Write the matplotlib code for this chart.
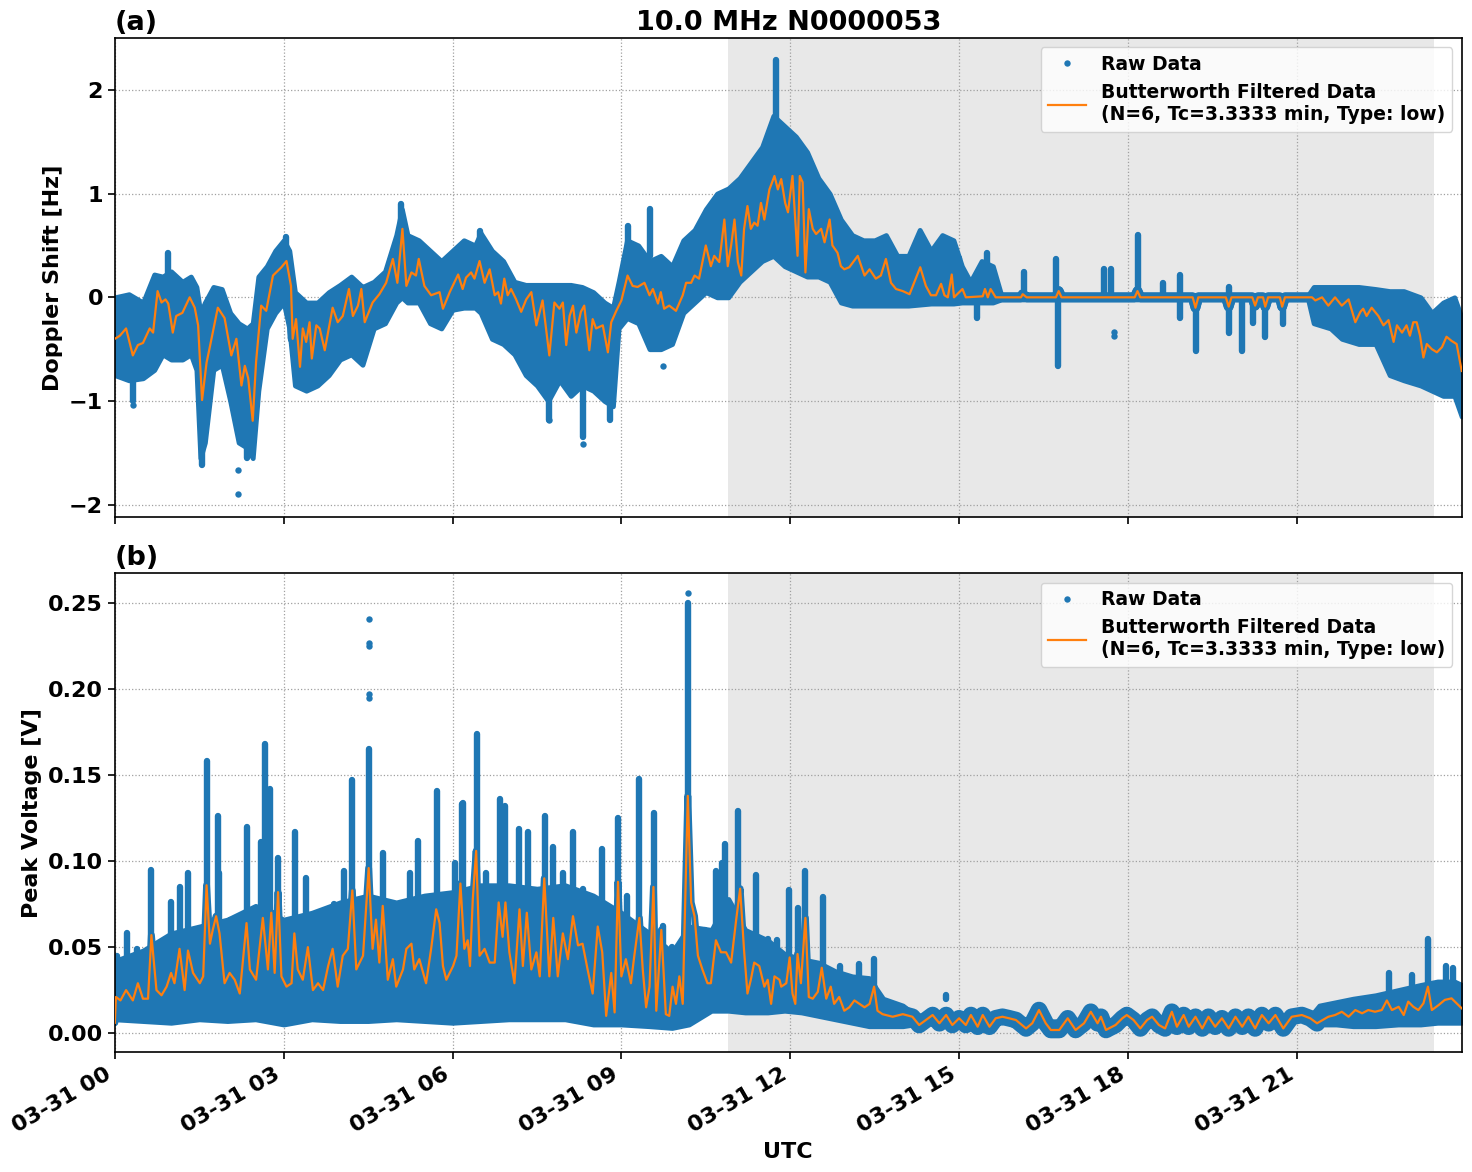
import numpy as np
import matplotlib
matplotlib.use("Agg")
import matplotlib.pyplot as plt
import matplotlib.dates as mdates
import matplotlib.ticker as mticker

plt.rcParams['font.family'] = ['DejaVu Sans']
plt.rcParams['font.weight'] = 'bold'
plt.rcParams['axes.labelweight'] = 'bold'
plt.rcParams['axes.titleweight'] = 'bold'

BLUE = '#1f77b4'
ORANGE = '#ff7f0e'

# ---------------- Data (hours after 03-31 00:00 UTC) ----------------
title = "10.0 MHz N0000053"
legend_raw = "Raw Data"
legend_filt = "Butterworth Filtered Data\n(N=6, Tc=3.3333 min, Type: low)"
night_start_h = 10.89
night_end_h = 23.43
x_end_h = 23.93

# Panel (a): Doppler shift, filtered series
dop_filt_t = [0.0,0.09,0.2,0.32,0.41,0.5,0.62,0.68,0.76,0.83,0.9,0.95,1.03,1.09,1.2,1.33,1.42,1.48,1.55,1.63,
              1.68,1.83,1.95,2.07,2.16,2.25,2.31,2.37,2.45,2.51,2.6,2.69,2.81,2.96,3.05,3.13,3.16,3.22,3.29,3.34,
              3.4,3.46,3.5,3.58,3.64,3.73,3.87,3.96,4.05,4.16,4.23,4.32,4.38,4.44,4.58,4.7,4.82,4.94,5.02,5.11,
              5.18,5.27,5.35,5.4,5.5,5.62,5.77,5.83,5.95,6.1,6.18,6.24,6.33,6.39,6.48,6.57,6.66,6.75,6.81,6.86,
              6.92,6.98,7.04,7.13,7.22,7.31,7.4,7.49,7.6,7.72,7.81,7.9,7.96,8.02,8.08,8.14,8.2,8.28,8.34,8.43,
              8.49,8.55,8.67,8.76,8.82,8.91,9.0,9.11,9.2,9.29,9.41,9.5,9.56,9.65,9.7,9.76,9.85,9.97,10.09,10.15,
              10.24,10.3,10.38,10.5,10.59,10.65,10.74,10.83,10.89,10.95,11.01,11.07,11.13,11.18,11.24,11.3,11.36,11.42,11.48,11.54,
              11.63,11.72,11.78,11.84,11.91,11.96,12.04,12.1,12.13,12.17,12.22,12.27,12.33,12.4,12.46,12.55,12.61,12.7,12.75,12.84,
              12.9,12.96,13.05,13.2,13.32,13.41,13.52,13.61,13.7,13.79,13.88,14.0,14.12,14.2,14.31,14.41,14.5,14.59,14.68,14.74,
              14.8,14.87,14.91,15.06,15.12,15.42,15.46,15.51,15.56,15.65,16.1,16.13,16.2,16.72,16.77,16.82,18.12,18.17,18.22,19.15,
              19.2,19.25,19.74,19.79,19.84,20.21,20.26,20.31,20.4,20.44,20.49,20.7,20.74,20.79,21.27,21.33,21.45,21.56,21.68,21.8,
              21.92,22.04,22.13,22.18,22.24,22.33,22.45,22.54,22.63,22.72,22.78,22.87,22.95,23.01,23.07,23.13,23.19,23.25,23.31,23.4,
              23.49,23.58,23.66,23.75,23.84,23.93]
dop_filt_v = [-0.40,-0.37,-0.30,-0.56,-0.46,-0.44,-0.30,-0.34,0.06,-0.05,-0.02,-0.06,-0.34,-0.18,-0.15,0.00,-0.10,-0.27,-0.99,-0.63,
              -0.50,-0.10,-0.20,-0.56,-0.40,-0.85,-0.66,-0.78,-1.19,-0.62,-0.08,-0.13,0.21,0.29,0.35,0.11,-0.40,-0.21,-0.67,-0.30,
              -0.43,-0.24,-0.59,-0.27,-0.30,-0.51,-0.10,-0.24,-0.18,0.08,-0.18,-0.08,0.08,-0.24,-0.05,0.03,0.14,0.37,0.14,0.66,
              0.11,0.24,0.21,0.37,0.11,0.02,0.05,-0.11,0.05,0.22,0.08,0.19,0.24,0.18,0.35,0.14,0.27,0.02,0.05,-0.06,
              0.18,0.02,0.08,-0.02,-0.14,-0.02,0.05,-0.27,-0.03,-0.56,-0.05,-0.11,-0.05,-0.46,-0.18,-0.08,-0.34,-0.14,-0.08,-0.51,
              -0.21,-0.30,-0.27,-0.53,-0.24,-0.13,-0.03,0.21,0.11,0.10,0.14,0.02,0.08,-0.06,0.05,-0.11,-0.08,-0.13,0.02,0.14,
              0.14,0.21,0.18,0.50,0.30,0.40,0.34,0.75,0.30,0.50,0.75,0.34,0.21,0.66,0.88,0.66,0.72,0.69,0.91,0.75,
              1.04,1.17,1.04,1.14,0.91,0.82,1.17,0.66,0.40,1.17,1.11,0.24,0.85,0.66,0.61,0.66,0.53,0.75,0.50,0.43,
              0.30,0.27,0.29,0.40,0.21,0.27,0.18,0.21,0.37,0.14,0.08,0.06,0.03,0.14,0.29,0.11,0.02,0.02,0.13,0.02,
              0.00,0.22,0.00,0.08,0.00,0.01,0.08,0.00,0.08,0.00,0.00,0.03,0.00,0.00,0.06,0.00,0.00,0.06,0.00,0.00,
              -0.10,0.00,0.00,-0.09,0.00,0.00,-0.08,0.00,0.00,-0.09,0.00,0.00,-0.09,0.00,0.00,-0.03,0.00,-0.08,0.00,-0.08,
              -0.02,-0.24,-0.14,-0.11,-0.18,-0.10,-0.18,-0.27,-0.22,-0.43,-0.27,-0.34,-0.27,-0.37,-0.24,-0.24,-0.37,-0.58,-0.45,-0.50,
              -0.53,-0.48,-0.38,-0.42,-0.45,-0.71]

# Panel (a): raw data spread (lower / upper edge of the dense cloud)
dop_raw_t = [0.0,0.25,0.5,0.7,0.85,1.0,1.2,1.35,1.45,1.52,1.6,1.75,1.9,2.05,2.2,2.35,2.45,2.55,2.7,2.85,
             3.0,3.1,3.2,3.4,3.6,3.8,4.0,4.2,4.4,4.6,4.8,5.0,5.1,5.2,5.4,5.6,5.8,6.0,6.2,6.4,
             6.5,6.7,6.9,7.1,7.3,7.5,7.7,7.9,8.1,8.3,8.5,8.7,8.85,8.95,9.1,9.3,9.5,9.7,9.9,10.1,
             10.3,10.5,10.7,10.9,11.1,11.3,11.5,11.7,11.9,12.1,12.3,12.5,12.7,12.9,13.1,13.3,13.5,13.7,13.9,14.1,
             14.3,14.5,14.7,14.9,15.05,15.2,15.4,15.6,15.75,21.2,21.3,21.6,21.8,22.1,22.4,22.65,22.9,23.2,23.4,23.6,
             23.8,23.93]
dop_raw_lo = [-0.75,-0.80,-0.78,-0.70,-0.55,-0.60,-0.60,-0.55,-0.70,-1.55,-1.40,-0.70,-0.65,-1.00,-1.40,-1.45,-1.55,-0.90,-0.30,-0.15,
              -0.05,-0.30,-0.85,-0.90,-0.85,-0.75,-0.60,-0.55,-0.65,-0.30,-0.25,-0.05,0.00,-0.05,-0.05,-0.25,-0.30,-0.12,-0.10,-0.10,
              -0.15,-0.40,-0.45,-0.55,-0.75,-0.85,-1.00,-0.80,-0.95,-0.85,-0.90,-1.00,-1.05,-0.30,-0.20,-0.25,-0.50,-0.50,-0.45,-0.15,
              -0.05,0.05,0.00,0.00,0.15,0.25,0.35,0.40,0.30,0.25,0.20,0.20,0.15,-0.05,-0.08,-0.08,-0.08,-0.08,-0.08,-0.08,
              -0.07,-0.06,-0.06,-0.06,-0.05,-0.05,-0.05,-0.05,-0.02,-0.02,-0.25,-0.30,-0.40,-0.45,-0.45,-0.75,-0.80,-0.85,-0.90,-0.95,
              -0.95,-1.15]
dop_raw_hi = [0.00,0.03,-0.05,0.22,0.20,0.25,0.15,0.20,0.10,-0.15,-0.05,0.10,0.08,-0.15,-0.25,-0.30,-0.25,0.20,0.30,0.45,
              0.55,0.45,0.05,-0.05,-0.05,0.05,0.12,0.20,0.10,0.15,0.25,0.60,0.85,0.60,0.55,0.45,0.35,0.45,0.55,0.50,
              0.62,0.45,0.35,0.15,0.12,0.12,0.12,0.12,0.12,0.10,0.05,-0.05,-0.10,0.15,0.55,0.50,0.35,0.40,0.30,0.55,
              0.65,0.85,1.00,1.05,1.15,1.30,1.45,1.75,1.65,1.55,1.40,1.15,1.00,0.75,0.60,0.55,0.55,0.60,0.40,0.40,
              0.65,0.45,0.60,0.55,0.30,0.15,0.35,0.30,0.02,0.02,0.10,0.10,0.10,0.10,0.08,0.06,0.06,0.00,-0.15,-0.05,
              0.00,-0.20]

# Panel (a): narrow excursions of the raw data
dop_spike_t = [0.32,0.95,1.55,2.35,3.05,5.08,6.48,7.72,8.31,8.79,9.11,9.5,11.75,15.0,15.31,15.5,16.16,16.72,16.75,17.58,
               17.7,18.18,18.63,18.92,19.21,19.79,20.02,20.23,20.44,20.76]
dop_spike_lo = [-1.00,0.00,-1.62,-1.55,0.30,0.50,0.40,-1.18,-1.35,-1.18,0.40,0.40,1.50,0.00,-0.20,0.00,0.00,0.00,-0.66,0.00,
                0.00,0.00,0.00,-0.20,-0.52,-0.34,-0.52,-0.25,-0.38,-0.26]
dop_spike_hi = [-0.60,0.43,-0.50,-1.20,0.58,0.90,0.64,-0.80,-0.90,-0.80,0.69,0.85,2.29,0.38,0.00,0.43,0.24,0.37,0.00,0.27,
                0.27,0.60,0.14,0.22,0.00,0.10,0.00,0.00,0.00,0.00]
dop_pts_t = [0.32,2.18,2.18,8.31,7.72,9.74,17.76,17.76]
dop_pts_v = [-1.04,-1.90,-1.66,-1.41,-1.18,-0.66,-0.37,-0.33]

# Panel (b): peak voltage, filtered series
pv_filt_t = [0.0,0.02,0.1,0.2,0.32,0.41,0.5,0.59,0.65,0.74,0.83,0.92,1.0,1.06,1.15,1.24,1.3,1.39,1.51,1.57,
             1.63,1.69,1.74,1.8,1.86,1.95,2.04,2.13,2.22,2.34,2.4,2.51,2.63,2.72,2.78,2.84,2.9,2.96,3.05,3.14,
             3.19,3.25,3.34,3.43,3.52,3.61,3.7,3.79,3.87,3.96,4.05,4.14,4.22,4.29,4.41,4.51,4.58,4.64,4.7,4.76,
             4.85,4.94,5.0,5.12,5.18,5.27,5.32,5.41,5.53,5.62,5.71,5.77,5.83,5.89,6.01,6.07,6.14,6.21,6.27,6.31,
             6.36,6.42,6.48,6.57,6.66,6.75,6.82,6.89,6.94,7.01,7.1,7.19,7.25,7.32,7.4,7.49,7.55,7.63,7.72,7.79,
             7.87,7.96,8.05,8.14,8.23,8.31,8.4,8.49,8.58,8.66,8.73,8.82,8.88,8.94,9.0,9.08,9.17,9.23,9.32,9.38,
             9.44,9.5,9.57,9.62,9.71,9.79,9.85,9.91,9.97,10.03,10.09,10.18,10.24,10.3,10.36,10.44,10.53,10.59,10.68,10.77,
             10.86,10.95,11.04,11.11,11.18,11.24,11.3,11.36,11.45,11.54,11.6,11.66,11.72,11.81,11.84,11.93,11.99,12.04,12.09,12.13,
             12.19,12.27,12.33,12.4,12.49,12.56,12.64,12.72,12.78,12.87,12.96,13.05,13.14,13.23,13.32,13.41,13.49,13.55,13.64,13.82,
             14.0,14.17,14.29,14.41,14.53,14.65,14.77,14.88,15.0,15.12,15.21,15.33,15.42,15.54,15.65,15.77,15.89,16.01,16.19,16.3,
             16.42,16.54,16.63,16.78,16.93,17.07,17.22,17.34,17.46,17.52,17.61,17.66,17.78,17.9,17.98,18.1,18.22,18.34,18.43,18.55,
             18.66,18.78,18.87,18.99,19.08,19.2,19.32,19.43,19.55,19.67,19.79,19.91,20.03,20.14,20.26,20.38,20.5,20.62,20.76,20.91,
             21.09,21.24,21.36,21.56,21.68,21.8,21.92,22.04,22.16,22.27,22.39,22.51,22.6,22.69,22.81,22.9,22.98,23.07,23.16,23.25,
             23.33,23.4,23.52,23.63,23.75,23.84,23.93]
pv_filt_v = [0.006,0.021,0.019,0.025,0.019,0.029,0.020,0.020,0.057,0.025,0.022,0.027,0.035,0.029,0.049,0.025,0.048,0.035,0.029,0.033,
             0.086,0.052,0.060,0.068,0.058,0.029,0.035,0.031,0.023,0.064,0.037,0.031,0.067,0.037,0.070,0.035,0.082,0.033,0.027,0.029,
             0.058,0.037,0.031,0.050,0.025,0.029,0.025,0.039,0.049,0.027,0.045,0.049,0.083,0.037,0.045,0.096,0.049,0.066,0.041,0.074,
             0.031,0.043,0.027,0.037,0.049,0.052,0.037,0.043,0.029,0.049,0.072,0.064,0.039,0.031,0.039,0.045,0.087,0.049,0.054,0.039,
             0.078,0.106,0.045,0.049,0.041,0.041,0.076,0.056,0.076,0.047,0.029,0.072,0.039,0.070,0.037,0.047,0.033,0.090,0.033,0.067,
             0.033,0.058,0.043,0.068,0.051,0.052,0.037,0.023,0.062,0.047,0.010,0.035,0.012,0.088,0.033,0.043,0.029,0.045,0.067,0.037,
             0.015,0.027,0.085,0.013,0.060,0.011,0.010,0.027,0.017,0.033,0.017,0.138,0.076,0.068,0.045,0.037,0.029,0.029,0.054,0.047,
             0.047,0.041,0.066,0.084,0.048,0.023,0.031,0.041,0.039,0.027,0.031,0.017,0.033,0.031,0.027,0.029,0.044,0.023,0.017,0.046,
             0.029,0.067,0.021,0.020,0.024,0.038,0.020,0.027,0.017,0.021,0.013,0.015,0.019,0.017,0.015,0.017,0.027,0.013,0.011,0.0095,
             0.011,0.0095,0.0047,0.0076,0.0105,0.0057,0.0105,0.0047,0.0086,0.0047,0.0105,0.0037,0.0105,0.0037,0.0086,0.0095,0.0086,0.0076,0.0027,0.0057,
             0.0134,0.0057,0.0018,0.0018,0.0086,0.0018,0.0057,0.0124,0.0057,0.0095,0.0018,0.0027,0.0047,0.0086,0.0105,0.0076,0.0027,0.0076,0.0095,0.0047,
             0.0027,0.0124,0.0037,0.0105,0.0037,0.0095,0.0027,0.0095,0.0037,0.0086,0.0027,0.0095,0.0037,0.0095,0.0027,0.0105,0.0057,0.0105,0.0027,0.0095,
             0.0105,0.0086,0.0057,0.0095,0.0105,0.0124,0.0095,0.0134,0.0115,0.0134,0.0124,0.0134,0.019,0.0134,0.0153,0.0105,0.0183,0.0153,0.0134,0.0173,
             0.027,0.0134,0.0163,0.0193,0.0202,0.0173,0.0144]

# Panel (b): raw data spread
pv_raw_t = [0.0,0.5,1.0,1.5,2.0,2.5,3.0,3.5,4.0,4.5,5.0,5.5,6.0,6.5,7.0,7.5,8.0,8.5,9.0,9.5,
            9.9,10.2,10.6,10.9,11.2,11.6,11.9,12.2,12.5,12.8,13.1,13.4,13.65,14.0,14.4,21.2,21.4,21.7,22.0,22.4,
            22.8,23.2,23.5,23.8,23.93]
pv_raw_lo = [0.008,0.007,0.006,0.008,0.007,0.008,0.005,0.008,0.007,0.007,0.008,0.007,0.006,0.007,0.008,0.008,0.008,0.005,0.005,0.004,
             0.003,0.005,0.013,0.013,0.012,0.012,0.013,0.012,0.010,0.008,0.006,0.004,0.004,0.004,0.006,0.008,0.005,0.005,0.004,0.004,
             0.005,0.005,0.006,0.006,0.006]
pv_raw_hi = [0.042,0.048,0.058,0.062,0.066,0.074,0.066,0.070,0.076,0.080,0.076,0.080,0.082,0.086,0.086,0.084,0.086,0.080,0.070,0.058,
             0.047,0.062,0.060,0.078,0.060,0.054,0.046,0.043,0.041,0.036,0.033,0.032,0.020,0.016,0.006,0.008,0.016,0.018,0.020,0.022,
             0.025,0.028,0.030,0.030,0.028]

# Panel (b): bursts above the dense cloud (tip heights)
pv_spike_t = [0.03,0.22,0.40,0.65,1.0,1.15,1.3,1.63,1.83,1.85,2.04,2.34,2.6,2.66,2.75,2.9,3.05,3.2,3.4,3.58,
              3.67,3.89,4.08,4.22,4.51,4.76,4.91,5.09,5.24,5.38,5.72,6.04,6.17,6.19,6.43,6.6,6.85,6.94,7.18,7.34,
              7.64,7.79,7.96,8.14,8.31,8.47,8.65,8.94,9.1,9.32,9.58,9.74,9.9,10.06,10.18,10.48,10.68,10.78,10.85,11.07,
              11.39,11.6,11.76,11.97,12.13,12.27,12.58,12.89,13.22,13.49,14.77,22.63,23.04,23.33,23.66,23.78]
pv_spike_hi = [0.045,0.058,0.049,0.095,0.076,0.085,0.093,0.158,0.126,0.093,0.066,0.120,0.111,0.168,0.142,0.102,0.061,0.117,0.090,0.067,
               0.067,0.075,0.094,0.147,0.165,0.105,0.073,0.068,0.093,0.112,0.141,0.099,0.133,0.134,0.174,0.093,0.136,0.132,0.119,0.117,
               0.126,0.108,0.093,0.117,0.084,0.079,0.107,0.125,0.080,0.148,0.128,0.062,0.050,0.043,0.250,0.060,0.094,0.099,0.110,0.129,
               0.092,0.055,0.054,0.083,0.073,0.094,0.079,0.039,0.040,0.043,0.022,0.035,0.034,0.055,0.039,0.038]
pv_pts_t = [4.51,4.51,4.51,4.51,4.51,10.18]
pv_pts_v = [0.241,0.227,0.225,0.197,0.195,0.256]

# ---------------- Helpers ----------------
BASE = np.datetime64('2024-03-31T00:00:00')


def to_dt(hours):
    secs = np.round(np.asarray(hours, dtype=float) * 3600).astype('int64')
    return BASE + secs.astype('timedelta64[s]')


fig, (ax1, ax2) = plt.subplots(2, 1, figsize=(14.72, 11.72), dpi=100, sharex=True)
fig.subplots_adjust(left=0.078, right=0.993, top=0.9676, bottom=0.1024, hspace=0.118)


def draw_panel(ax, ft, fv, rt, rlo, rhi, thin_lw, thick_lw, quiet, spikes, pts_t, pts_v):
    ax.axvspan(to_dt([night_start_h])[0], to_dt([night_end_h])[0], color='#e8e8e8', zorder=0, lw=0)
    # dense raw cloud
    ax.fill_between(to_dt(rt), rlo, rhi, color=BLUE, lw=3.5, edgecolor=BLUE, zorder=2)
    ft_a = np.asarray(ft)
    fv_a = np.asarray(fv)
    ax.plot(to_dt(ft_a), fv_a, color=BLUE, lw=thin_lw, solid_capstyle='round',
            solid_joinstyle='round', zorder=2)
    m = (ft_a >= quiet[0]) & (ft_a <= quiet[1])
    ax.plot(to_dt(ft_a[m]), fv_a[m], color=BLUE, lw=thick_lw, solid_capstyle='round',
            solid_joinstyle='round', zorder=2)
    st, slo, shi = spikes
    lc = ax.vlines(to_dt(st), slo, shi, color=BLUE, lw=4.6, zorder=2)
    lc.set_capstyle('round')
    ax.plot(to_dt(pts_t), pts_v, 'o', ms=4.6, mew=0, color=BLUE, zorder=2, label=legend_raw)
    ax.plot(to_dt(ft), fv, color=ORANGE, lw=1.6, zorder=3, label=legend_filt)
    ax.grid(True, linestyle=':', color='#a0a0a0', linewidth=0.9)
    ax.set_xlim(to_dt([0.0])[0], to_dt([x_end_h])[0])
    ax.legend(loc='upper right', prop={'weight': 'bold', 'size': 13.5})
    ax.tick_params(labelsize=16, width=1.2, length=5)
    for sp in ax.spines.values():
        sp.set_linewidth(1.2)


draw_panel(ax1, dop_filt_t, dop_filt_v, dop_raw_t, dop_raw_lo, dop_raw_hi, 7.0, 7.0, (0.0, 24.0),
           (dop_spike_t, dop_spike_lo, dop_spike_hi), dop_pts_t, dop_pts_v)
pv_base = [0.02] * len(pv_spike_t)
draw_panel(ax2, pv_filt_t, pv_filt_v, pv_raw_t, pv_raw_lo, pv_raw_hi, 5.0, 12.0, (13.5, 21.5),
           (pv_spike_t, pv_base, pv_spike_hi), pv_pts_t, pv_pts_v)

ax1.set_ylim(-2.115, 2.5)
ax1.set_yticks([-2, -1, 0, 1, 2])
ax2.set_ylim(-0.011, 0.2675)
ax2.set_yticks([0.0, 0.05, 0.10, 0.15, 0.20, 0.25])
ax2.yaxis.set_major_formatter(mticker.FormatStrFormatter('%.2f'))

ax1.set_ylabel('Doppler Shift [Hz]', fontsize=16)
ax2.set_ylabel('Peak Voltage [V]', fontsize=16)
ax2.set_xlabel('UTC', fontsize=16)
ax1.set_title(title, fontsize=19.5, fontweight='bold')
ax1.set_title('(a)', loc='left', fontsize=19.5, fontweight='bold')
ax2.set_title('(b)', loc='left', fontsize=19.5, fontweight='bold')

ax2.xaxis.set_major_locator(mdates.HourLocator(byhour=range(0, 24, 3)))
ax2.xaxis.set_major_formatter(mdates.DateFormatter('%m-%d %H'))
for lab in ax2.get_xticklabels():
    lab.set_rotation(30)
    lab.set_ha('right')
    lab.set_fontweight('bold')
for ax in (ax1, ax2):
    for lab in ax.get_yticklabels():
        lab.set_fontweight('bold')

fig.savefig('out.png', dpi=100)
